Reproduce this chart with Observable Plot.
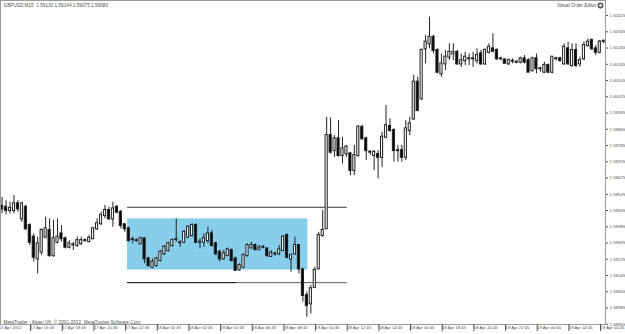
<!DOCTYPE html>
<html><head><meta charset="utf-8">
<script src="https://cdn.jsdelivr.net/npm/d3@7"></script>
<script src="https://cdn.jsdelivr.net/npm/@observablehq/plot@0.6"></script>
<style>
html,body{margin:0;padding:0;background:#fff;}
#chart svg{display:block;}
</style></head><body><div id="chart"></div>
<script>
// GBPUSD M15 bars, bar number 0 = 17 Apr 2012 14:45 (first visible bar = 1)
const opens = [1.59486,1.59481,1.59465,1.59465,1.59498,1.59424,1.59481,1.59391,1.59334,1.59227,
1.59260,1.59334,1.59367,1.59243,1.59309,1.59350,1.59326,1.59284,1.59296,1.59293,
1.59301,1.59317,1.59312,1.59326,1.59375,1.59400,1.59440,1.59465,1.59424,1.59481,
1.59457,1.59395,1.59375,1.59322,1.59317,1.59301,1.59326,1.59227,1.59186,1.59194,
1.59219,1.59252,1.59268,1.59293,1.59322,1.59306,1.59309,1.59334,1.59342,1.59391,
1.59309,1.59309,1.59317,1.59350,1.59301,1.59260,1.59227,1.59243,1.59268,1.59227,
1.59173,1.59186,1.59243,1.59281,1.59293,1.59272,1.59284,1.59276,1.59239,1.59252,
1.59252,1.59268,1.59342,1.59227,1.59252,1.59293,1.59173,1.59047,1.59006,1.59087,
1.59178,1.59342,1.59375,1.59834,1.59760,1.59818,1.59736,1.59744,1.59744,1.59662,
1.59736,1.59875,1.59818,1.59752,1.59736,1.59741,1.59727,1.59826,1.59879,1.59859,
1.59760,1.59760,1.59727,1.59859,1.59916,1.60097,1.60015,1.60261,1.60286,1.60318,
1.60253,1.60138,1.60187,1.60220,1.60236,1.60244,1.60187,1.60203,1.60212,1.60212,
1.60203,1.60236,1.60187,1.60244,1.60261,1.60253,1.60212,1.60207,1.60187,1.60200,
1.60195,1.60195,1.60212,1.60203,1.60154,1.60212,1.60163,1.60146,1.60179,1.60146,
1.60212,1.60212,1.60187,1.60261,1.60179,1.60253,1.60187,1.60212,1.60277,1.60302,
1.60261,1.60244,1.60298];
const highs = [1.59530,1.59514,1.59506,1.59539,1.59514,1.59506,1.59490,1.59400,1.59350,1.59334,
1.59375,1.59432,1.59424,1.59416,1.59424,1.59391,1.59334,1.59317,1.59309,1.59334,
1.59334,1.59326,1.59342,1.59383,1.59424,1.59457,1.59490,1.59481,1.59506,1.59490,
1.59465,1.59400,1.59383,1.59334,1.59326,1.59334,1.59326,1.59235,1.59227,1.59235,
1.59268,1.59293,1.59309,1.59326,1.59424,1.59317,1.59367,1.59391,1.59400,1.59400,
1.59326,1.59350,1.59383,1.59367,1.59309,1.59268,1.59268,1.59281,1.59276,1.59235,
1.59203,1.59252,1.59301,1.59309,1.59301,1.59293,1.59293,1.59281,1.59268,1.59260,
1.59293,1.59342,1.59350,1.59252,1.59334,1.59293,1.59178,1.59063,1.59096,1.59186,
1.59358,1.59465,1.59924,1.59921,1.59834,1.59908,1.59826,1.59785,1.59752,1.59785,
1.59883,1.59883,1.59826,1.59760,1.59760,1.59760,1.59850,1.59982,1.59916,1.59867,
1.59785,1.59785,1.59908,1.59924,1.60130,1.60121,1.60261,1.60327,1.60417,1.60327,
1.60261,1.60236,1.60253,1.60286,1.60286,1.60253,1.60236,1.60244,1.60236,1.60244,
1.60261,1.60253,1.60261,1.60286,1.60335,1.60261,1.60220,1.60212,1.60212,1.60212,
1.60203,1.60220,1.60228,1.60212,1.60220,1.60236,1.60170,1.60195,1.60187,1.60220,
1.60220,1.60220,1.60286,1.60294,1.60286,1.60286,1.60220,1.60294,1.60310,1.60310,
1.60277,1.60302,1.60305];
const lows = [1.59449,1.59444,1.59449,1.59449,1.59457,1.59407,1.59367,1.59293,1.59211,1.59153,
1.59243,1.59326,1.59235,1.59235,1.59301,1.59309,1.59276,1.59276,1.59268,1.59284,
1.59293,1.59309,1.59306,1.59326,1.59367,1.59391,1.59424,1.59416,1.59383,1.59449,
1.59375,1.59358,1.59309,1.59301,1.59309,1.59298,1.59203,1.59186,1.59178,1.59186,
1.59211,1.59243,1.59260,1.59284,1.59309,1.59284,1.59301,1.59326,1.59334,1.59301,
1.59276,1.59284,1.59301,1.59284,1.59243,1.59211,1.59219,1.59239,1.59211,1.59166,
1.59166,1.59178,1.59235,1.59276,1.59268,1.59268,1.59276,1.59235,1.59235,1.59239,
1.59243,1.59265,1.59227,1.59161,1.59243,1.59153,1.59014,1.58940,1.58956,1.59080,
1.59173,1.59334,1.59375,1.59744,1.59727,1.59727,1.59695,1.59727,1.59637,1.59637,
1.59727,1.59810,1.59711,1.59736,1.59662,1.59621,1.59678,1.59818,1.59850,1.59703,
1.59703,1.59703,1.59711,1.59834,1.59908,1.59957,1.60007,1.60187,1.60261,1.60236,
1.60138,1.60121,1.60154,1.60203,1.60203,1.60179,1.60170,1.60179,1.60179,1.60170,
1.60187,1.60179,1.60179,1.60236,1.60244,1.60203,1.60203,1.60187,1.60179,1.60187,
1.60187,1.60187,1.60187,1.60146,1.60146,1.60138,1.60146,1.60138,1.60138,1.60138,
1.60203,1.60195,1.60179,1.60179,1.60170,1.60170,1.60170,1.60203,1.60269,1.60253,
1.60228,1.60236,1.60286];
const closes = [1.59473,1.59465,1.59476,1.59498,1.59473,1.59498,1.59375,1.59309,1.59235,1.59301,
1.59367,1.59375,1.59243,1.59326,1.59334,1.59326,1.59284,1.59301,1.59296,1.59317,
1.59317,1.59317,1.59329,1.59375,1.59400,1.59440,1.59465,1.59424,1.59473,1.59457,
1.59391,1.59375,1.59317,1.59322,1.59317,1.59326,1.59227,1.59194,1.59211,1.59227,
1.59260,1.59284,1.59301,1.59317,1.59322,1.59306,1.59358,1.59383,1.59391,1.59309,
1.59309,1.59326,1.59350,1.59293,1.59252,1.59227,1.59252,1.59272,1.59219,1.59170,
1.59194,1.59243,1.59293,1.59293,1.59272,1.59281,1.59284,1.59243,1.59255,1.59252,
1.59272,1.59334,1.59235,1.59243,1.59293,1.59178,1.59047,1.58997,1.59080,1.59170,
1.59342,1.59367,1.59834,1.59752,1.59818,1.59736,1.59769,1.59777,1.59662,1.59736,
1.59875,1.59818,1.59760,1.59752,1.59752,1.59727,1.59826,1.59883,1.59859,1.59760,
1.59760,1.59727,1.59867,1.59892,1.60097,1.59957,1.60253,1.60294,1.60318,1.60253,
1.60146,1.60187,1.60220,1.60244,1.60244,1.60187,1.60203,1.60220,1.60212,1.60212,
1.60228,1.60187,1.60253,1.60269,1.60249,1.60212,1.60212,1.60190,1.60203,1.60200,
1.60195,1.60212,1.60195,1.60146,1.60212,1.60163,1.60163,1.60179,1.60146,1.60220,
1.60212,1.60203,1.60269,1.60187,1.60253,1.60179,1.60203,1.60277,1.60294,1.60261,
1.60244,1.60294,1.60298];
const firstBar = 1;

// time axis: bar numbers and their labels
const xTickBars = [0,8,16,24,32,40,48,56,64,72,80,88,96,104,112,120,128,136,144,152];
const xTickLabels = ["17 Apr 2012","17 Apr 16:45","17 Apr 18:45","17 Apr 20:45","17 Apr 22:45",
"18 Apr 00:45","18 Apr 02:45","18 Apr 04:45","18 Apr 06:45","18 Apr 08:45","18 Apr 10:45",
"18 Apr 12:45","18 Apr 14:45","18 Apr 16:45","18 Apr 18:45","18 Apr 20:45","18 Apr 22:45",
"19 Apr 00:45","19 Apr 02:45","19 Apr 04:45"];
// price axis
const yTicks = [1.60425,1.60345,1.60265,1.60185,1.60105,1.60025,1.59945,1.59865,1.59785,1.59705,
1.59625,1.59545,1.59465,1.59385,1.59305,1.59225,1.59145,1.59065,1.58985,1.58905];

// drawn objects (bar number span, price)
const zoneBars = [32.7, 78.25];
const zonePrices = [1.59424, 1.59172];
const upperLine = {from: 32.7, to: 88.2, price: 1.59481};
const lowerLineA = {from: 32.7, to: 60.4, price: 1.59110};
const lowerLineB = {from: 60.4, to: 88.2, price: 1.59110};

const titleText = "GBPUSD,M15  1.59130 1.59144 1.59075 1.59080";
const editorText = "Visual Order Editor";
const footerText = "MetaTrader - Alpari UK, \u00a9 2001-2012, MetaQuotes Software Corp.";

const bars = opens.map((o, k) => ({
  i: firstBar + k, o, h: highs[k], l: lows[k], c: closes[k],
  up: closes[k] >= o
}));
const labelMap = new Map(xTickBars.map((b, k) => [b, xTickLabels[k]]));
const hw = 0.27;
const FS = 4.7;
const FSX = 4.2;
const TXT = "#505050";

const chart = Plot.plot({
  width: 625, height: 334,
  marginLeft: 0, marginRight: 20, marginTop: 0, marginBottom: 10,
  style: {fontFamily: "'Liberation Sans', Arial, sans-serif", background: "#fff"},
  x: {type: "linear", domain: [0.6, 153.45], axis: null},
  y: {domain: [1.58904, 1.60499], axis: null},
  marks: [
    Plot.rect([0], {x1: () => zoneBars[0], x2: () => zoneBars[1], y1: () => zonePrices[0], y2: () => zonePrices[1], fill: "#87CEEB"}),
    Plot.ruleY([upperLine], {x1: "from", x2: "to", y: "price", stroke: "#3a3a3a"}),
    Plot.ruleY([lowerLineA], {x1: "from", x2: "to", y: "price", stroke: "#000"}),
    Plot.ruleY([lowerLineB], {x1: "from", x2: "to", y: "price", stroke: "#5a5a5a"}),
    Plot.ruleX(bars, {x: "i", y1: "l", y2: "h", stroke: "#222"}),
    Plot.rect(bars, {x1: d => d.i - hw, x2: d => d.i + hw, y1: "o", y2: "c",
      fill: d => d.up ? "#fff" : "#000", stroke: "#222", insetTop: -0.5, insetBottom: -0.5}),
    Plot.frame({stroke: "#9a9a9a"}),
    Plot.axisY(yTicks, {anchor: "right", tickSize: 2, tickPadding: 2, tickFormat: d => d.toFixed(5), fontSize: FSX + 0.2, color: TXT}),
    Plot.axisX(xTickBars, {anchor: "bottom", tickSize: 7, tickPadding: -5, textAnchor: "start", dx: 0.8,
      tickFormat: d => labelMap.get(d), fontSize: FSX, color: TXT}),
    Plot.text([titleText], {text: d => d, frameAnchor: "top-left", dx: 3, dy: 3, fontSize: FS, fill: TXT}),
    Plot.text([editorText], {text: d => d, frameAnchor: "top-right", dx: -9, dy: 3, fontSize: FS, fill: TXT}),
    Plot.dot([0], {frameAnchor: "top-right", dx: -5, dy: 5, r: 2.2, stroke: TXT, fill: "none"}),
    Plot.text([footerText], {text: d => d, frameAnchor: "bottom-left", dx: 3, dy: -1, fontSize: FS, fill: TXT})
  ]
});
document.getElementById("chart").append(chart);
</script>
</body></html>
